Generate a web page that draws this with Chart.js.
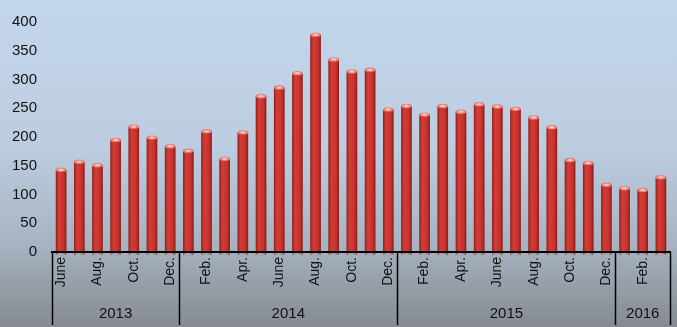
<!DOCTYPE html>
<html>
<head>
<meta charset="utf-8">
<title>Monthly totals 2013-2016</title>
<script src="https://cdn.jsdelivr.net/npm/chart.js@4/dist/chart.umd.min.js"></script>
<style>
    html, body { margin: 0; padding: 0; }
    body {
        width: 677px;
        height: 327px;
        overflow: hidden;
        background: linear-gradient(to bottom, #c4d6ec 0%, #bccde1 45%, #a7b3c0 75%, #858a90 100%);
    }
    #wrap { position: relative; width: 677px; height: 327px; }
</style>
</head>
<body>
<div id="wrap"><canvas id="monthlyChart" width="677" height="327"></canvas></div>
<script>
// Monthly values, June 2013 - March 2016
const months = [
    'June', 'July', 'Aug.', 'Sep.', 'Oct.', 'Nov.', 'Dec.',
    'Jan.', 'Feb.', 'Mar.', 'Apr.', 'May', 'June', 'July', 'Aug.', 'Sep.', 'Oct.', 'Nov.', 'Dec.',
    'Jan.', 'Feb.', 'Mar.', 'Apr.', 'May', 'June', 'July', 'Aug.', 'Sep.', 'Oct.', 'Nov.', 'Dec.',
    'Jan.', 'Feb.', 'Mar.'
];
const values = [
    143, 157, 151, 195, 218, 199, 184,
    176, 210, 162, 208, 271, 286, 311, 378, 335, 314, 317, 248,
    254, 239, 254, 244, 257, 253, 249, 234, 217, 160, 155, 117,
    111, 108, 130
];
const years = ['2013', '2014', '2015', '2016'];
const yearCounts = [7, 12, 12, 3];
const yTicks = [0, 50, 100, 150, 200, 250, 300, 350, 400];

const FONT = '"Liberation Sans", "DejaVu Sans", sans-serif';

// Cylinder shading + lighter top cap on every bar
const barShading = {
    id: 'barShading',
    afterDatasetsDraw(chart) {
        const ctx = chart.ctx;
        chart.getDatasetMeta(0).data.forEach(bar => {
            const p = bar.getProps(['x', 'y', 'base', 'width'], true);
            const left = p.x - p.width / 2;
            const right = p.x + p.width / 2;
            const g = ctx.createLinearGradient(left, 0, right, 0);
            g.addColorStop(0, 'rgba(60,0,0,0.45)');
            g.addColorStop(0.35, 'rgba(255,120,100,0.18)');
            g.addColorStop(0.55, 'rgba(255,90,80,0.10)');
            g.addColorStop(1, 'rgba(60,0,0,0.5)');
            ctx.save();
            ctx.fillStyle = g;
            ctx.fillRect(left, p.y, p.width, p.base - p.y + 3);
            ctx.beginPath();
            ctx.ellipse(p.x, p.y, p.width / 2, 2.2, 0, 0, Math.PI * 2);
            ctx.fillStyle = '#e8837a';
            ctx.fill();
            ctx.beginPath();
            ctx.ellipse(p.x, p.y, p.width / 4, 1.1, 0, 0, Math.PI * 2);
            ctx.fillStyle = 'rgba(255,220,215,0.8)';
            ctx.fill();
            ctx.restore();
        });
    }
};

// Year grouping row under the month labels
const yearGroups = {
    id: 'yearGroups',
    afterDraw(chart) {
        const ctx = chart.ctx;
        const xs = chart.scales.x;
        const area = chart.chartArea;
        const half = (xs.getPixelForValue(1) - xs.getPixelForValue(0)) / 2;
        ctx.save();
        ctx.strokeStyle = '#000';
        ctx.lineWidth = 1.5;
        ctx.fillStyle = '#111';
        ctx.font = '15px ' + FONT;
        ctx.textAlign = 'center';
        ctx.textBaseline = 'middle';
        let start = 0;
        const edges = [xs.getPixelForValue(0) - half];
        years.forEach((yr, i) => {
            const end = start + yearCounts[i] - 1;
            const x0 = xs.getPixelForValue(start) - half;
            const x1 = xs.getPixelForValue(end) + half;
            edges.push(x1);
            ctx.fillText(yr, (x0 + x1) / 2, 314);
            start = end + 1;
        });
        edges.forEach(x => {
            const px = Math.round(x) + 0.5;
            ctx.beginPath();
            ctx.moveTo(px, area.bottom);
            ctx.lineTo(px, chart.height - 2);
            ctx.stroke();
        });
        ctx.restore();
    }
};

const ctx = document.getElementById('monthlyChart').getContext('2d');
window.monthlyChart = new Chart(ctx, {
    type: 'bar',
    data: {
        labels: months,
        datasets: [{
            data: values,
            backgroundColor: '#c9302b',
            borderWidth: 0,
            categoryPercentage: 1,
            barPercentage: 0.58
        }]
    },
    options: {
        responsive: false,
        animation: false,
        layout: { padding: { top: 22, right: 7, left: 0, bottom: 0 } },
        plugins: {
            legend: { display: false },
            tooltip: { enabled: false }
        },
        scales: {
            y: {
                min: 0,
                max: 400,
                afterBuildTicks: scale => { scale.ticks = yTicks.map(v => ({ value: v })); },
                afterFit: scale => { scale.width = 52; },
                grid: { display: false },
                border: { display: false },
                ticks: {
                    color: '#111',
                    padding: 7,
                    font: { family: FONT, size: 15 }
                }
            },
            x: {
                afterFit: scale => {
                    scale.height = 75;
                    scale.paddingLeft = 0;
                    scale.paddingRight = 0;
                },
                grid: { display: false, drawTicks: false },
                border: { display: true, color: '#000', width: 2, z: 1 },
                ticks: {
                    autoSkip: false,
                    minRotation: 90,
                    maxRotation: 90,
                    padding: 5,
                    color: '#111',
                    font: { family: FONT, size: 14 },
                    callback: function(value, index) {
                        return index % 2 === 0 ? months[index] : '';
                    }
                }
            }
        }
    },
    plugins: [barShading, yearGroups]
});
</script>
</body>
</html>
